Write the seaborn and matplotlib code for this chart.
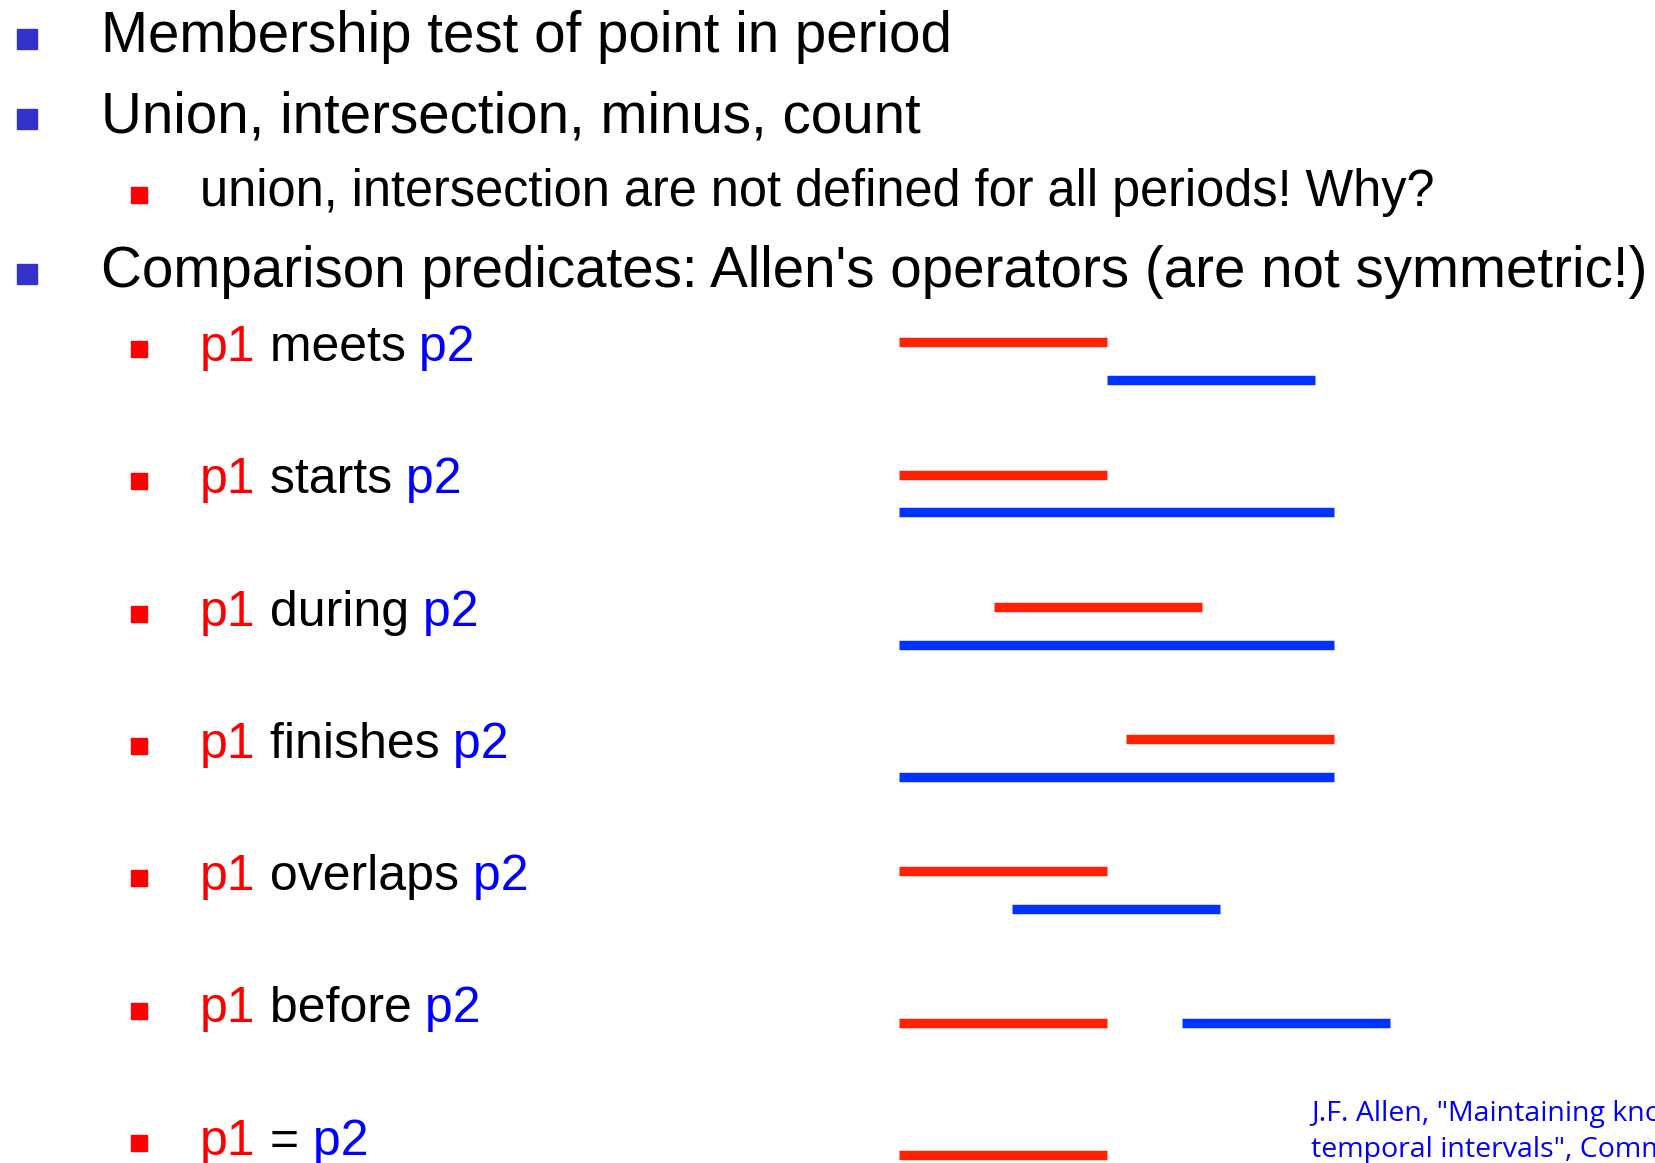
import pandas as pd
import matplotlib.pyplot as plt
from matplotlib.patches import Rectangle
import seaborn as sns

# slide text
top_items = ["Membership test of point in period",
             "Union, intersection, minus, count",
             "Comparison predicates: Allen's operators (are not symmetric!)"]
sub_item = "union, intersection are not defined for all periods! Why?"
relations = ["meets", "starts", "during", "finishes", "overlaps", "before", "="]
citation = ['J.F. Allen, "Maintaining knowledge about',
            'temporal intervals", Communications of the ACM']

# interval diagrams (time units, lane offset inside each row)
p1_start = [0, 0, 4.55, 10.9, 0, 0, 0]
p1_end = [10, 10, 14.55, 20.9, 10, 10, 10]
p2_start = [10, 0, 0, 0, 5.45, 13.6, 0]
p2_end = [20, 20.9, 20.9, 20.9, 15.45, 23.6, 10]
p1_lane = [0, 0, 0, 0, 0, 0.144, 0.144]
p2_lane = [0.285, 0.285, 0.285, 0.285, 0.285, 0.144, 0.43]

RED = "#ff0000"
BLUE = "#0000ff"
BULLET_BLUE = "#3333cc"


def rich_text(ax, x, y, parts, size):
    t = ax.text(x, y, parts[0][0], color=parts[0][1], fontsize=size, va="baseline")
    for s, c in parts[1:]:
        t = ax.annotate(s, xycoords=t, xy=(1, 0), va="bottom", color=c, fontsize=size)
    return t


def make_slide():
    sns.set_theme(style="white")
    plt.rcParams["font.family"] = ["Liberation Sans", "DejaVu Sans"]

    fig = plt.figure(figsize=(16.56, 11.63), dpi=100)

    # diagram axes: time on x, row index on y
    dax = fig.add_axes([0, 0, 1, 1])
    rows = []
    for i, rel in enumerate(relations):
        rows.append({"seg": f"{rel}-p1", "period": "p1", "t": p1_start[i], "y": i + p1_lane[i]})
        rows.append({"seg": f"{rel}-p1", "period": "p1", "t": p1_end[i], "y": i + p1_lane[i]})
        rows.append({"seg": f"{rel}-p2", "period": "p2", "t": p2_start[i], "y": i + p2_lane[i]})
        rows.append({"seg": f"{rel}-p2", "period": "p2", "t": p2_end[i], "y": i + p2_lane[i]})
    df = pd.DataFrame(rows)
    sns.lineplot(data=df, x="t", y="y", hue="period", units="seg", estimator=None,
                 sort=False, palette={"p1": "#ff2200", "p2": "#0033ff"},
                 linewidth=6.8, solid_capstyle="butt", legend=False, ax=dax)
    px_per_t = 20.8
    px_per_row = 132.3
    dax.set_xlim(-899 / px_per_t, (1656 - 899) / px_per_t)
    dax.set_ylim((1163 - 342.3) / px_per_row, -342.3 / px_per_row)
    dax.axis("off")

    # text layer in pixel space
    ax = fig.add_axes([0, 0, 1, 1], facecolor="none")
    ax.set_xlim(0, 1656)
    ax.set_ylim(1163, 0)
    ax.axis("off")

    top_base = [52, 132, 287]
    top_bullet = [39, 119, 274]
    for label, yb, yc in zip(top_items, top_base, top_bullet):
        ax.add_patch(Rectangle((17, yc - 10), 20, 20, color=BULLET_BLUE))
        ax.text(101, yb, label, fontsize=40.7, color="black", va="baseline")

    ax.add_patch(Rectangle((131, 195 - 8), 16, 16, color=RED))
    ax.text(200, 206, sub_item, fontsize=36.4, color="black", va="baseline")

    for i, rel in enumerate(relations):
        yb = 361 + i * px_per_row
        ax.add_patch(Rectangle((131, yb - 12 - 8), 16, 16, color=RED))
        rich_text(ax, 200, yb, [("p1", RED), (" " + rel, "black"), (" p2", BLUE)], 36)

    for j, line in enumerate(citation):
        ax.text(1311, 1121 + j * 36, line, fontsize=20.5, color=BLUE, va="baseline",
                family=["Open Sans", "DejaVu Sans"])

    fig.savefig("out.png", dpi=100)
    plt.close(fig)


if __name__ == "__main__":
    make_slide()
